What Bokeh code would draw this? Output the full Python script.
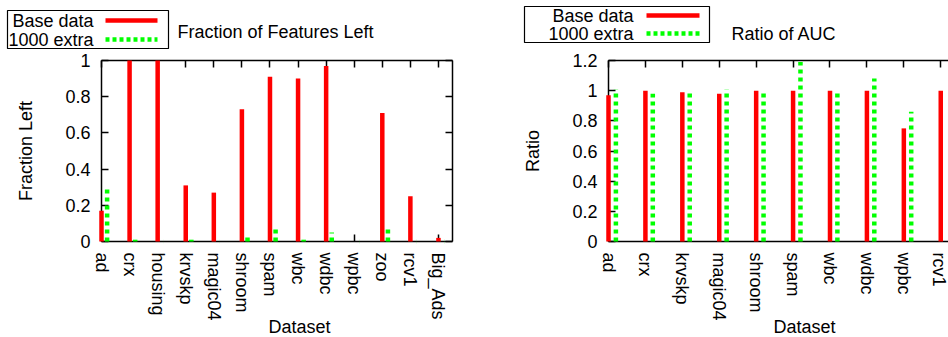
from bokeh.plotting import figure
from bokeh.models import Range1d, FixedTicker, LinearAxis, Title, ColumnDataSource
from bokeh.layouts import column, row
from bokeh.embed import file_html
from bokeh.resources import INLINE
from bokeh.core.properties import value

FONT = "Liberation Sans"
FS = "18px"
RED = "#ff0000"
GREEN = "#00ff00"

# ---- data ----
left_categories = ["ad", "crx", "housing", "krvskp", "magic04", "shroom", "spam",
                   "wbc", "wdbc", "wpbc", "zoo", "rcv1", "Big_Ads"]
left_base = [0.17, 1.0, 1.0, 0.31, 0.27, 0.73, 0.91, 0.90, 0.97, 0.0, 0.71, 0.25, 0.02]
left_extra = [0.29, 0.01, 0.0, 0.01, 0.0, 0.03, 0.07, 0.01, 0.05, 0.0, 0.07, 0.0, 0.0]
left_yticks = [0, 0.2, 0.4, 0.6, 0.8, 1]
left_ytick_labels = ["0", "0.2", "0.4", "0.6", "0.8", "1"]

right_categories = ["ad", "crx", "krvskp", "magic04", "shroom", "spam", "wbc",
                    "wdbc", "wpbc", "rcv1"]
right_base = [0.97, 1.0, 0.99, 0.98, 1.0, 1.0, 1.0, 1.0, 0.75, 1.0]
right_extra = [1.01, 0.98, 1.0, 1.01, 1.0, 1.19, 1.0, 1.08, 0.86, 0.0]
right_yticks = [0, 0.2, 0.4, 0.6, 0.8, 1, 1.2]
right_ytick_labels = ["0", "0.2", "0.4", "0.6", "0.8", "1", "1.2"]

series_names = ["Base data", "1000 extra"]
titles = ["Fraction of Features Left", "Ratio of AUC"]
y_labels = ["Fraction Left", "Ratio"]
x_label = "Dataset"
EXTRA_OFFSET = 0.2

HEAD_H = 49
MAIN_H = 288
TOP_B = 11
BOTTOM_B = 96


def style_axis(ax):
    ax.axis_line_color = "black"
    ax.axis_line_width = 1.5
    ax.major_tick_line_color = "black"
    ax.major_tick_line_width = 1.5
    ax.major_tick_in = 7
    ax.major_tick_out = 0
    ax.minor_tick_line_color = "black"
    ax.minor_tick_line_width = 1.5
    ax.minor_tick_in = 7
    ax.minor_tick_out = 0
    ax.major_label_text_font = FONT
    ax.major_label_text_color = "black"
    ax.major_label_text_font_size = FS


def mirror_axis(ticks):
    # ticks only (drawn as minor ticks), no labels
    ax = LinearAxis(ticker=FixedTicker(ticks=[], minor_ticks=ticks))
    style_axis(ax)
    ax.major_label_standoff = 0
    return ax


def make_panel(cats, base, extra, yticks, ytick_labels, ymax, xmax, width,
               mb_left, mb_right, ylab, mirror_right, label_offset):
    xs = list(range(len(cats)))
    src = ColumnDataSource(dict(
        x=xs, x2=[x + EXTRA_OFFSET for x in xs], zero=[0] * len(xs),
        base=base, extra=extra))
    p = figure(width=width, height=MAIN_H,
               x_range=Range1d(0, xmax), y_range=Range1d(0, ymax),
               output_backend="svg", toolbar_location=None,
               min_border_left=mb_left, min_border_right=mb_right,
               min_border_top=TOP_B, min_border_bottom=BOTTOM_B)
    p.background_fill_color = "white"
    p.border_fill_color = "white"
    p.outline_line_color = None
    p.xgrid.visible = False
    p.ygrid.visible = False

    xa = p.xaxis[0]
    xa.ticker = FixedTicker(ticks=xs)
    xa.major_label_overrides = {i: c for i, c in zip(xs, cats)}
    xa.major_label_orientation = "vertical"
    style_axis(xa)
    xa.major_label_standoff = 11

    ya = p.yaxis[0]
    ya.ticker = FixedTicker(ticks=yticks)
    ya.major_label_overrides = {t: l for t, l in zip(yticks, ytick_labels)}
    style_axis(ya)
    ya.major_label_standoff = 11
    ya.axis_label = ylab
    ya.axis_label_text_font = FONT
    ya.axis_label_text_font_size = FS
    ya.axis_label_text_font_style = "normal"
    ya.axis_label_text_color = "black"
    ya.axis_label_standoff = 26

    p.add_layout(mirror_axis(xs), "above")
    if mirror_right:
        p.add_layout(mirror_axis(yticks), "right")

    # bars drawn over the tick marks, as in the original
    p.segment(x0="x", y0="zero", x1="x", y1="base", source=src,
              line_color=RED, line_width=4.5, level="overlay")
    p.segment(x0="x2", y0="zero", x1="x2", y1="extra", source=src,
              line_color=GREEN, line_width=4.5, line_dash="4 4", level="overlay")

    t = Title(text=x_label, align="left", offset=label_offset,
              vertical_align="top",
              text_font=FONT, text_font_size=FS, text_font_style="normal",
              text_color="black", standoff=-14)
    p.add_layout(t, "below")
    return p


left = make_panel(left_categories, left_base, left_extra, left_yticks,
                  left_ytick_labels, 1.0, 12.5, 470, 101, 18, y_labels[0], True, 167)
right = make_panel(right_categories, right_base, right_extra, right_yticks,
                   right_ytick_labels, 1.2, 9.21, 478, 138, 0, y_labels[1], False, 165)

# ---- header with legends and titles (page pixel coordinates) ----
head = figure(width=948, height=HEAD_H, x_range=Range1d(0, 948),
              y_range=Range1d(HEAD_H, 0), output_backend="svg",
              toolbar_location=None, min_border=0,
              x_axis_location=None, y_axis_location=None)
head.outline_line_color = None
head.xgrid.visible = False
head.ygrid.visible = False
head.background_fill_color = "white"
head.border_fill_color = "white"

head.quad(left=[7, 524], right=[168, 709], top=[10, 6], bottom=[48, 42],
          fill_color=None, line_color="black", line_width=1.2)
head.text(x=[93, 633], y=[20, 15], text=[series_names[0]] * 2, text_align="right",
          text_baseline="middle", text_font=value(FONT), text_font_size=FS,
          text_color="black")
head.text(x=[93, 633], y=[39, 33], text=[series_names[1]] * 2, text_align="right",
          text_baseline="middle", text_font=value(FONT), text_font_size=FS,
          text_color="black")
head.segment(x0=[105, 646], y0=[20, 15], x1=[157, 699], y1=[20, 15],
             line_color=RED, line_width=4.5)
head.segment(x0=[105, 646], y0=[39, 33], x1=[157, 699], y1=[39, 33],
             line_color=GREEN, line_width=4.5, line_dash="4 3")
head.text(x=[177, 731], y=[31, 33], text=titles, text_align="left",
          text_baseline="middle", text_font=value(FONT), text_font_size=FS,
          text_color="black")

layout = column(head, row(left, right))
open("out.html", "w").write(file_html(layout, INLINE))
